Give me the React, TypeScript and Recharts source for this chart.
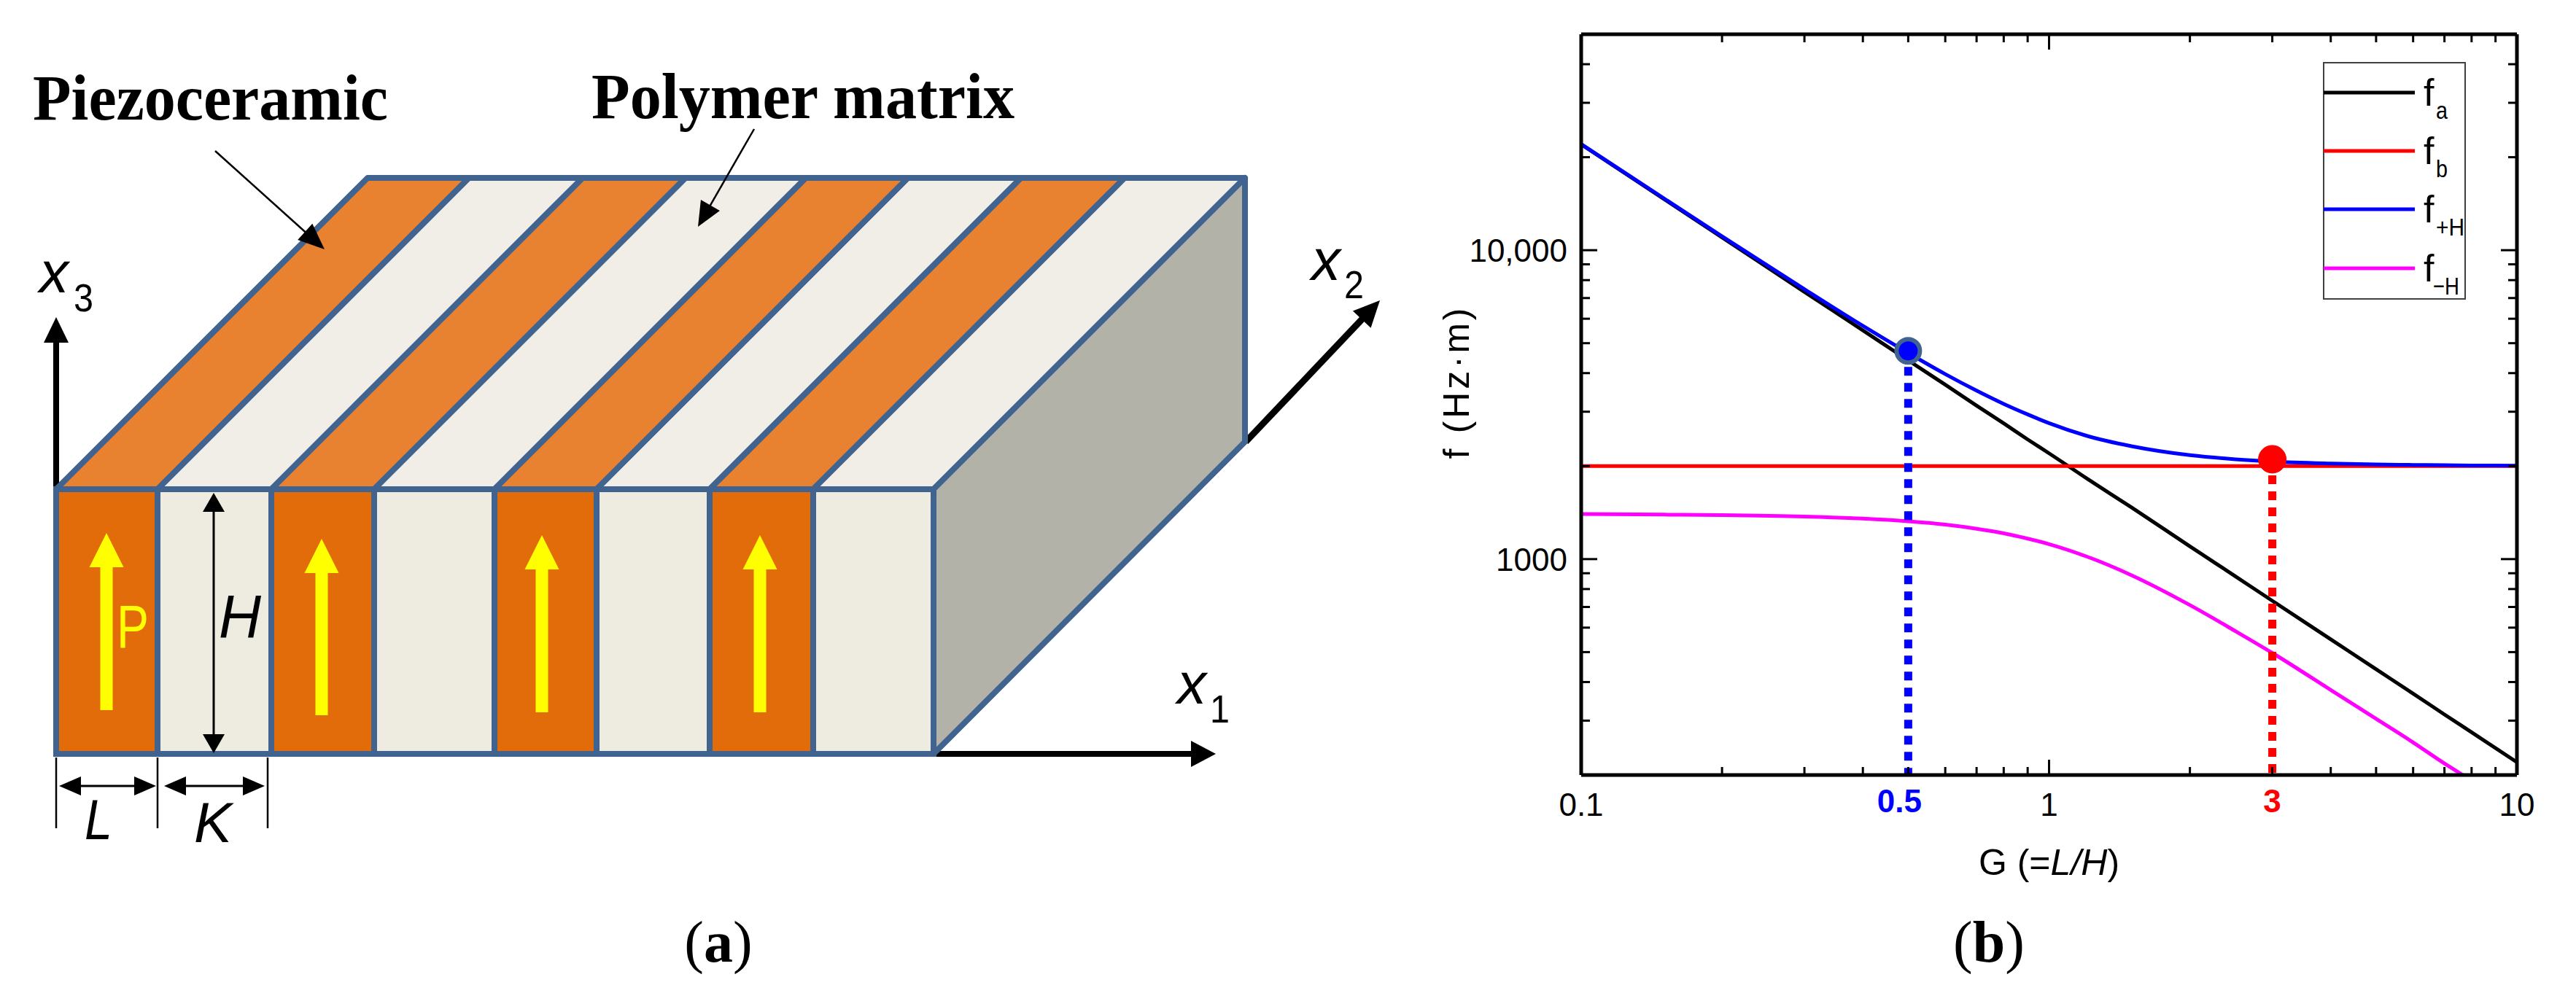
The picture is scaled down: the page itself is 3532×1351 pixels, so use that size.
import React from "react"
import {
  ComposedChart,
  Line,
  XAxis,
  YAxis,
  Legend,
  Label,
  ReferenceLine,
  ReferenceDot,
} from "recharts"

// values
const gValues = [0.1, 0.15, 0.2, 0.3, 0.4, 0.5, 0.6, 0.7, 0.8, 0.9, 1, 1.2, 1.5, 2, 2.5, 3, 4, 5, 6, 7, 8, 10]
const fA = [22000, 14670, 11000, 7330, 5500, 4400, 3670, 3140, 2750, 2440, 2200, 1830, 1470, 1100, 880, 733, 550, 440, 367, 314, 275, 220]
const fB = [2000, 2000, 2000, 2000, 2000, 2000, 2000, 2000, 2000, 2000, 2000, 2000, 2000, 2000, 2000, 2000, 2000, 2000, 2000, 2000, 2000, 2000]
const fPlusH = [22050, 14740, 11090, 7480, 5690, 4650, 3970, 3510, 3180, 2940, 2755, 2510, 2320, 2170, 2105, 2070, 2040, 2025, 2018, 2013, 2010, 2005]
const fMinusH = [1400, 1393, 1388, 1373, 1352, 1325, 1293, 1254, 1212, 1165, 1118, 1021, 887, 710, 585, 497, 377, 304, 255, 218, 192, 154]

const xMajor = [0.1, 1, 10]
const xTicks = [0.1, 0.2, 0.3, 0.4, 0.5, 0.6, 0.7, 0.8, 0.9, 1, 2, 3, 4, 5, 6, 7, 8, 9, 10]
const xLabels: Record<number, string> = { 0.1: "0.1", 0.5: "0.5", 1: "1", 3: "3", 10: "10" }
const yMajor = [1000, 10000]
const yTicks = [200, 300, 400, 500, 600, 700, 800, 900, 1000, 2000, 3000, 4000, 5000, 6000, 7000, 8000, 9000, 10000, 20000, 30000, 40000, 50000]
const yLabels: Record<number, string> = { 1000: "1000", 10000: "10,000" }

const data = gValues.map((g, i) => ({ g, fa: fA[i], fb: fB[i], fpH: fPlusH[i], fmH: fMinusH[i] }))

const legendSubs = ["a", "b", "+H", "−H"]
const legendSubWidths = [16, 16, 39, 36]
const legendRows = [42, 122, 202, 283]

const sans = "'Liberation Sans', Arial, sans-serif"
const serif = "'Liberation Serif', 'Times New Roman', serif"

// bottom x positions of the strips in panel (a), left to right
const stripEdges = [77, 216, 372, 513, 678, 818, 973, 1115, 1280]
const polarArrows = [
  { x: 146, top: 731, bottom: 974 },
  { x: 441, top: 739, bottom: 981 },
  { x: 743, top: 734, bottom: 977 },
  { x: 1042, top: 734, bottom: 977 },
]

function Arrow({ x1, y1, x2, y2, w, len, head, color = "#000", both = false }: any) {
  const d = Math.hypot(x2 - x1, y2 - y1)
  const ux = (x2 - x1) / d
  const uy = (y2 - y1) / d
  const tip = (tx: number, ty: number, sx: number, sy: number) => {
    const bx = tx - sx * len
    const by = ty - sy * len
    return `${tx},${ty} ${bx - sy * head / 2},${by + sx * head / 2} ${bx + sy * head / 2},${by - sx * head / 2}`
  }
  return (
    <g>
      <line
        x1={both ? x1 + ux * len * 0.8 : x1}
        y1={both ? y1 + uy * len * 0.8 : y1}
        x2={x2 - ux * len * 0.8}
        y2={y2 - uy * len * 0.8}
        stroke={color}
        strokeWidth={w}
      />
      <polygon points={tip(x2, y2, ux, uy)} fill={color} />
      {both && <polygon points={tip(x1, y1, -ux, -uy)} fill={color} />}
    </g>
  )
}

function AxisName({ x, y, sub, subX, subY }: any) {
  return (
    <g fontFamily={sans}>
      <text x={x} y={y} fontSize={80} fontStyle="italic">x</text>
      <text x={subX} y={subY} fontSize={54} textLength={27} lengthAdjust="spacingAndGlyphs">{sub}</text>
    </g>
  )
}

function Schematic() {
  const blue = "#41638F"
  const dx = 427
  const top = 671
  const bottom = 1034
  const back = 244
  return (
    <svg width={1900} height={1351} style={{ position: "absolute", left: 0, top: 0 }}>
      <Arrow x1={77} y1={672} x2={77} y2={435} w={8} len={35} head={34} />
      <Arrow x1={1280} y1={1034} x2={1667} y2={1034} w={8} len={34} head={36} />
      <Arrow x1={1708} y1={606} x2={1892} y2={412} w={9} len={36} head={34} />

      {stripEdges.slice(0, -1).map((x, i) => (
        <g key={x}>
          <polygon
            points={`${x},${top} ${stripEdges[i + 1]},${top} ${stripEdges[i + 1] + dx},${back} ${x + dx},${back}`}
            fill={i % 2 === 0 ? "#E98230" : "#F0EEE6"}
            stroke={blue}
            strokeWidth={8}
            strokeLinejoin="round"
          />
          <rect
            x={x}
            y={top}
            width={stripEdges[i + 1] - x}
            height={bottom - top}
            fill={i % 2 === 0 ? "#E36C0A" : "#EEECE1"}
            stroke={blue}
            strokeWidth={8}
          />
        </g>
      ))}
      <polygon
        points={`1280,${top} ${1280 + dx},${back} ${1280 + dx},606 1280,${bottom}`}
        fill="#B2B2A8"
        stroke={blue}
        strokeWidth={8}
        strokeLinejoin="round"
      />

      {polarArrows.map((a) => (
        <Arrow key={a.x} x1={a.x} y1={a.bottom} x2={a.x} y2={a.top} w={17} len={47} head={47} color="#FFFF00" />
      ))}
      <text x={160} y={888} fontFamily={sans} fontSize={84} fill="#FFFF00" textLength={44} lengthAdjust="spacingAndGlyphs">P</text>

      <Arrow x1={293} y1={676} x2={293} y2={1033} w={3} len={26} head={30} both />
      <text x={300} y={875} fontFamily={sans} fontSize={84} fontStyle="italic" textLength={58} lengthAdjust="spacingAndGlyphs">H</text>

      {[77, 216, 367].map((x) => (
        <line key={x} x1={x} y1={1039} x2={x} y2={1136} stroke="#000" strokeWidth={2.5} />
      ))}
      <Arrow x1={81} y1={1078} x2={214} y2={1078} w={3} len={30} head={26} both />
      <Arrow x1={225} y1={1078} x2={363} y2={1078} w={3} len={30} head={26} both />
      <text x={116} y={1151} fontFamily={sans} fontSize={78} fontStyle="italic" textLength={38} lengthAdjust="spacingAndGlyphs">L</text>
      <text x={266} y={1155} fontFamily={sans} fontSize={78} fontStyle="italic" textLength={52} lengthAdjust="spacingAndGlyphs">K</text>

      <AxisName x={54} y={401} sub="3" subX={101} subY={427} />
      <AxisName x={1614} y={965} sub="1" subX={1659} subY={991} />
      <AxisName x={1798} y={384} sub="2" subX={1843} subY={409} />

      <Arrow x1={295} y1={207} x2={445} y2={342} w={2.5} len={36} head={30} />
      <Arrow x1={1034} y1={177} x2={957} y2={311} w={2.5} len={34} head={30} />

      <text x={45} y={164} fontFamily={serif} fontWeight="bold" fontSize={88} textLength={487} lengthAdjust="spacingAndGlyphs">Piezoceramic</text>
      <text x={811} y={162} fontFamily={serif} fontWeight="bold" fontSize={88} textLength={580} lengthAdjust="spacingAndGlyphs">Polymer matrix</text>
      <text x={985} y={1319} fontFamily={serif} fontSize={80} textAnchor="middle">
        (<tspan fontWeight="bold">a</tspan>)
      </text>
    </svg>
  )
}

function BottomTick({ x, y, payload }: any) {
  const v = payload.value
  const len = xMajor.includes(v) ? 21 : 11
  const special = v === 0.5 || v === 3
  const fill = v === 0.5 ? "#0000FF" : v === 3 ? "#FF0000" : "#000"
  return (
    <g>
      <line x1={x} y1={y} x2={x} y2={y - len} stroke="#000" strokeWidth={3} />
      {xLabels[v] && (
        <text
          x={v === 0.5 ? x - 12 : x}
          y={y + (special ? 51 : 56)}
          textAnchor="middle"
          fontFamily={sans}
          fontSize={44}
          fontWeight={special ? "bold" : "normal"}
          fill={fill}
        >
          {xLabels[v]}
        </text>
      )}
    </g>
  )
}

function TopTick({ x, y, payload }: any) {
  const len = xMajor.includes(payload.value) ? 21 : 11
  return <line x1={x} y1={y} x2={x} y2={y + len} stroke="#000" strokeWidth={3} />
}

function LeftTick({ x, y, payload }: any) {
  const v = payload.value
  const len = yMajor.includes(v) ? 22 : 12
  return (
    <g>
      <line x1={x} y1={y} x2={x + len} y2={y} stroke="#000" strokeWidth={3} />
      {yLabels[v] && (
        <text x={x - 19} y={y + 16} textAnchor="end" fontFamily={sans} fontSize={44}>
          {yLabels[v]}
        </text>
      )}
    </g>
  )
}

function RightTick({ x, y, payload }: any) {
  const len = yMajor.includes(payload.value) ? 22 : 12
  return <line x1={x} y1={y} x2={x - len} y2={y} stroke="#000" strokeWidth={3} />
}

function LegendBox({ payload }: any) {
  return (
    <svg width={196} height={326} style={{ display: "block" }}>
      <rect x={1} y={1} width={194} height={324} fill="#fff" stroke="#404040" strokeWidth={2} />
      {(payload || []).map((item: any, i: number) => (
        <g key={item.value} fontFamily={sans}>
          <line x1={1} y1={legendRows[i]} x2={126} y2={legendRows[i]} stroke={item.color} strokeWidth={5} />
          <text x={138} y={legendRows[i] + 18} fontSize={52}>f</text>
          <text
            x={i === 3 ? 151 : 155}
            y={legendRows[i] + 36}
            fontSize={34}
            textLength={legendSubWidths[i]}
            lengthAdjust="spacingAndGlyphs"
          >
            {legendSubs[i]}
          </text>
        </g>
      ))}
    </svg>
  )
}

function XTitle({ viewBox }: any) {
  const cx = viewBox.x + viewBox.width / 2
  return (
    <text x={cx} y={1200} textAnchor="middle" fontFamily={sans} fontSize={50}>
      G (=<tspan fontStyle="italic">L/H</tspan>)
    </text>
  )
}

function YTitle() {
  return (
    <text
      transform="translate(114, 526) rotate(-90)"
      textAnchor="middle"
      fontFamily={sans}
      fontSize={50}
      textLength={207}
    >
      f (Hz·m)
    </text>
  )
}

function Panel() {
  return (
    <ComposedChart
      width={1632}
      height={1351}
      data={data}
      margin={{ top: 46, right: 80, bottom: 208, left: 168 }}
      style={{ position: "absolute", left: 1900, top: 0 }}
    >
      <XAxis
        dataKey="g"
        type="number"
        scale="log"
        domain={[0.1, 10]}
        ticks={xTicks}
        interval={0}
        allowDataOverflow
        height={80}
        tickLine={false}
        tickSize={0}
        tickMargin={0}
        tick={BottomTick}
        axisLine={{ stroke: "#000", strokeWidth: 5 }}
      >
        <Label content={XTitle} />
      </XAxis>
      <XAxis
        xAxisId="top"
        orientation="top"
        dataKey="g"
        type="number"
        scale="log"
        domain={[0.1, 10]}
        ticks={xTicks}
        interval={0}
        allowDataOverflow
        height={1}
        tickLine={false}
        tickSize={0}
        tickMargin={0}
        tick={TopTick}
        axisLine={{ stroke: "#000", strokeWidth: 5 }}
      />
      <YAxis
        type="number"
        scale="log"
        domain={[200, 50000]}
        ticks={yTicks}
        interval={0}
        allowDataOverflow
        width={100}
        tickLine={false}
        tickSize={0}
        tickMargin={0}
        tick={LeftTick}
        axisLine={{ stroke: "#000", strokeWidth: 5 }}
      >
        <Label content={YTitle} />
      </YAxis>
      <YAxis
        yAxisId="right"
        orientation="right"
        type="number"
        scale="log"
        domain={[200, 50000]}
        ticks={yTicks}
        interval={0}
        allowDataOverflow
        width={1}
        tickLine={false}
        tickSize={0}
        tickMargin={0}
        tick={RightTick}
        axisLine={{ stroke: "#000", strokeWidth: 5 }}
      />
      <Legend
        layout="vertical"
        align="center"
        verticalAlign="middle"
        itemSorter={null}
        wrapperStyle={{ left: 1285, top: 85, width: 196, height: 326 }}
        content={LegendBox}
      />
      <Line dataKey="fa" name="fa" stroke="#000000" strokeWidth={5} dot={false} type="monotone" isAnimationActive={false} />
      <Line dataKey="fb" name="fb" stroke="#FF0000" strokeWidth={5} dot={false} type="monotone" isAnimationActive={false} />
      <Line dataKey="fpH" name="f+H" stroke="#0000FF" strokeWidth={5} dot={false} type="monotone" isAnimationActive={false} />
      <Line dataKey="fmH" name="f-H" stroke="#FF00FF" strokeWidth={5} dot={false} type="monotone" isAnimationActive={false} />
      {/* keeps the mirror axes on top and right alive, draws nothing */}
      <Line xAxisId="top" yAxisId="right" dataKey="fb" stroke="none" legendType="none" dot={false} isAnimationActive={false} />
      <ReferenceLine segment={[{ x: 0.5, y: 4720 }, { x: 0.5, y: 200 }]} stroke="#0000FF" strokeWidth={11} strokeDasharray="12 10" />
      <ReferenceLine segment={[{ x: 3, y: 2105 }, { x: 3, y: 200 }]} stroke="#FF0000" strokeWidth={11} strokeDasharray="12 10" />
      <ReferenceDot x={0.5} y={4720} r={16} fill="#0000FF" stroke="#41638F" strokeWidth={6} />
      <ReferenceDot x={3} y={2105} r={19} fill="#FF0000" stroke="#FF0000" strokeWidth={1} />
    </ComposedChart>
  )
}

export default function App() {
  return (
    <div style={{ position: "absolute", left: 0, top: 0, width: 3532, height: 1351, background: "#fff", overflow: "hidden" }}>
      <Schematic />
      <Panel />
      <svg width={3532} height={1351} style={{ position: "absolute", left: 0, top: 0, pointerEvents: "none" }}>
        <text x={2727} y={1319} fontFamily={serif} fontSize={80} textAnchor="middle">
          (<tspan fontWeight="bold">b</tspan>)
        </text>
      </svg>
    </div>
  )
}
